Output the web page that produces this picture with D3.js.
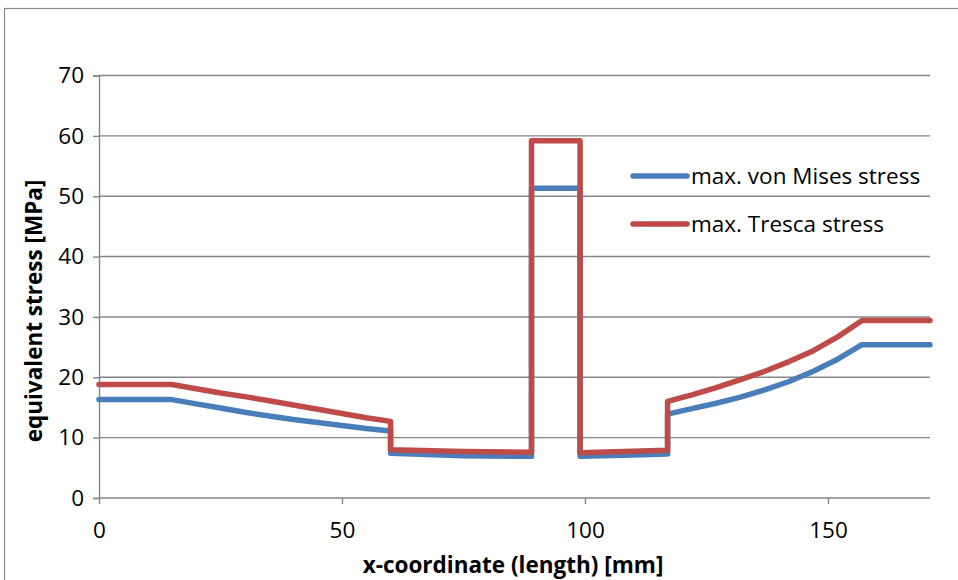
<!DOCTYPE html>
<html>
<head>
<meta charset="utf-8">
<script src="https://cdn.jsdelivr.net/npm/d3@7"></script>
<style>
  html, body { margin: 0; padding: 0; background: #fff; }
  svg { display: block; }
  text { font-family: "Open Sans", sans-serif; fill: #000; }
</style>
</head>
<body>
<svg id="chart" width="958" height="580"></svg>
<script>
// ---- data ----
const xValues = [0, 15, 20, 25, 30, 35, 40, 45, 50, 55, 60, 60, 75, 89, 89, 99, 99, 108, 117, 117, 122, 127, 132, 137, 142, 147, 152, 157, 171];
const misesValues = [16.3, 16.3, 15.6, 14.9, 14.2, 13.6, 13.0, 12.5, 12.0, 11.5, 11.1, 7.4, 7.0, 6.9, 51.3, 51.3, 6.9, 7.1, 7.3, 13.9, 14.8, 15.7, 16.7, 17.9, 19.3, 21.0, 23.0, 25.4, 25.4];
const trescaValues = [18.8, 18.8, 18.1, 17.4, 16.8, 16.1, 15.4, 14.7, 14.0, 13.3, 12.7, 8.0, 7.7, 7.6, 59.2, 59.2, 7.5, 7.7, 7.9, 16.0, 17.1, 18.3, 19.6, 21.0, 22.6, 24.4, 26.7, 29.4, 29.4];
const seriesNames = ["max. von Mises stress", "max. Tresca stress"];
const seriesColors = ["#4A7EBB", "#BE4B48"];
const xTicks = [0, 50, 100, 150];
const yTicks = [0, 10, 20, 30, 40, 50, 60, 70];
const xTitle = "x-coordinate (length) [mm]";
const yTitle = "equivalent stress [MPa]";

const svg = d3.select("#chart");
const gridColor = "#868686";

// outer frame
svg.append("rect").attr("x", 4.5).attr("y", 8.5).attr("width", 1000).attr("height", 700)
  .attr("fill", "none").attr("stroke", "#8c8c8c").attr("stroke-width", 1.2);

const x = d3.scaleLinear().domain([0, 171]).range([99, 930]);
const y = d3.scaleLinear().domain([0, 70]).range([498, 75.5]);

// gridlines
svg.append("g").selectAll("line").data(yTicks.filter(d => d > 0)).join("line")
  .attr("x1", x(0)).attr("x2", x(171))
  .attr("y1", d => y(d)).attr("y2", d => y(d))
  .attr("stroke", gridColor).attr("stroke-width", 1.4);

// y axis
const yAxis = svg.append("g").attr("transform", `translate(${x(0)},0)`)
  .call(d3.axisLeft(y).tickValues(yTicks).tickSize(6).tickPadding(9));
yAxis.select(".domain").attr("stroke", gridColor).attr("stroke-width", 1.4);
yAxis.selectAll(".tick line").attr("stroke", gridColor).attr("stroke-width", 1.4);
yAxis.selectAll(".tick text").style("font-family", "Open Sans").style("font-size", "22.5px").attr("fill", "#000");

// x axis
const xAxis = svg.append("g").attr("transform", `translate(0,${y(0)})`)
  .call(d3.axisBottom(x).tickValues(xTicks).tickSize(6).tickPadding(18));
xAxis.select(".domain").attr("stroke", gridColor).attr("stroke-width", 1.4).attr("d", `M${x(0)},0H${x(171)}`);
xAxis.selectAll(".tick line").attr("stroke", gridColor).attr("stroke-width", 1.4);
xAxis.selectAll(".tick text").style("font-family", "Open Sans").style("font-size", "22.5px").attr("fill", "#000");

// axis titles
svg.append("text").attr("x", 513).attr("y", 573).attr("text-anchor", "middle")
  .style("font-size", "22.5px").style("font-weight", "bold").text(xTitle);
svg.append("text").attr("transform", "translate(42,311) rotate(-90)").attr("text-anchor", "middle")
  .style("font-size", "22.5px").style("font-weight", "bold").text(yTitle);

// lines
const line = d3.line().x(d => x(d[0])).y(d => y(d[1]));
const series = [misesValues, trescaValues];
series.forEach((vals, i) => {
  svg.append("path").datum(xValues.map((xv, j) => [xv, vals[j]]))
    .attr("d", line).attr("fill", "none")
    .attr("stroke", seriesColors[i]).attr("stroke-width", 5.5)
    .attr("stroke-linejoin", "round").attr("stroke-linecap", "round");
});

// legend
const legendY = [176, 224];
const lg = svg.append("g");
seriesNames.forEach((name, i) => {
  lg.append("line").attr("x1", 633).attr("x2", 687).attr("y1", legendY[i]).attr("y2", legendY[i])
    .attr("stroke", seriesColors[i]).attr("stroke-width", 5.5).attr("stroke-linecap", "round");
  lg.append("text").attr("x", 691).attr("y", legendY[i]).attr("dy", "0.35em")
    .style("font-size", "22.5px").text(name);
});
</script>
</body>
</html>
